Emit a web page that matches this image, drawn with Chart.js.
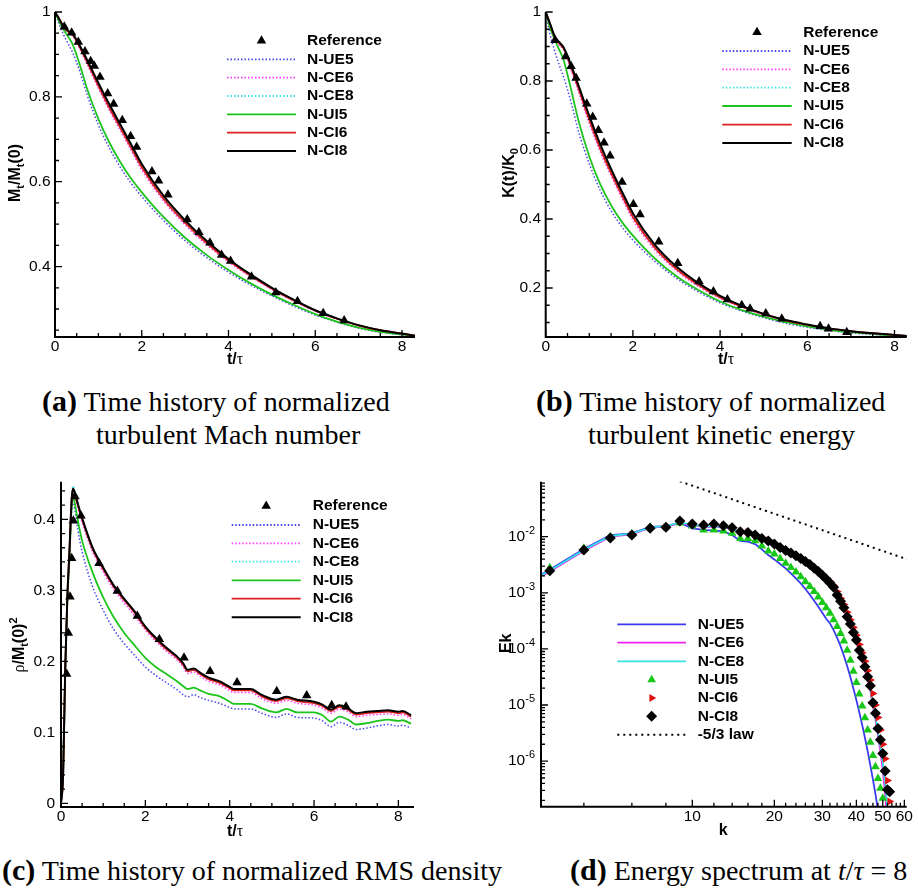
<!DOCTYPE html>
<html>
<head>
<meta charset="utf-8">
<script src="https://cdn.jsdelivr.net/npm/chart.js@4.4.1/dist/chart.umd.min.js"></script>
<style>
  html, body { margin: 0; padding: 0; background: #fff; }
  #fig { position: relative; width: 918px; height: 893px; overflow: hidden; }
  #fig canvas { position: absolute; }
  .cap { position: absolute; font-family: "Liberation Serif", "Times New Roman", serif; font-size: 28px; line-height: 28px; color: #000; white-space: nowrap; }
  .cap b { font-size: 30px; line-height: 0; }
</style>
</head>
<body>
<div id="fig">
  <canvas id="cA" width="459" height="375" style="left:0;top:0"></canvas>
  <canvas id="cB" width="459" height="375" style="left:459px;top:0"></canvas>
  <canvas id="cC" width="459" height="380" style="left:0;top:465px"></canvas>
  <canvas id="cD" width="459" height="380" style="left:459px;top:465px"></canvas>

  <div class="cap" style="left:42px;top:388px"><b>(a)</b> Time history of normalized</div>
  <div class="cap" style="left:96px;top:421px">turbulent Mach number</div>
  <div class="cap" style="left:536px;top:388px"><b>(b)</b> Time history of normalized</div>
  <div class="cap" style="left:588px;top:421px">turbulent kinetic energy</div>
  <div class="cap" style="left:2px;top:857px"><b>(c)</b> Time history of normalized RMS density</div>
  <div class="cap" style="left:570px;top:857px"><b>(d)</b> Energy spectrum at <i>t</i>/<i>τ</i> = 8</div>
</div>
<script>
// ---------- (a) normalized turbulent Mach number, (b) kinetic energy ----------
const tHist = [0, 0.1, 0.2, 0.3, 0.4, 0.5, 0.6, 0.75, 1, 1.25, 1.5, 1.75, 2, 2.5, 3, 3.5, 4, 4.5, 5, 5.5, 6, 6.5, 7, 7.5, 8, 8.3];

const mtUE5 = [1.0, 0.970, 0.946, 0.926, 0.906, 0.881, 0.851, 0.802, 0.734, 0.680, 0.635, 0.597, 0.565, 0.509, 0.461, 0.421, 0.387, 0.357, 0.331, 0.307, 0.286, 0.269, 0.255, 0.245, 0.239, 0.235];
const mtCE6 = [1.0, 0.982, 0.963, 0.952, 0.945, 0.928, 0.907, 0.875, 0.820, 0.769, 0.722, 0.675, 0.628, 0.555, 0.498, 0.451, 0.411, 0.377, 0.346, 0.319, 0.295, 0.276, 0.261, 0.249, 0.241, 0.237];
const mtCE8 = [1.0, 0.983, 0.965, 0.955, 0.948, 0.932, 0.913, 0.883, 0.830, 0.780, 0.733, 0.686, 0.639, 0.564, 0.507, 0.458, 0.417, 0.381, 0.349, 0.321, 0.297, 0.278, 0.262, 0.250, 0.242, 0.237];
const mtUI5 = [1.0, 0.977, 0.958, 0.942, 0.925, 0.898, 0.866, 0.816, 0.748, 0.693, 0.647, 0.608, 0.575, 0.517, 0.468, 0.427, 0.392, 0.361, 0.334, 0.310, 0.288, 0.270, 0.256, 0.246, 0.240, 0.236];
const mtCI6 = [1.0, 0.983, 0.964, 0.954, 0.947, 0.931, 0.911, 0.880, 0.826, 0.775, 0.728, 0.681, 0.634, 0.560, 0.503, 0.455, 0.414, 0.379, 0.348, 0.320, 0.296, 0.277, 0.261, 0.250, 0.242, 0.237];
const mtCI8 = [1.0, 0.983, 0.965, 0.956, 0.949, 0.934, 0.915, 0.885, 0.833, 0.783, 0.736, 0.689, 0.642, 0.567, 0.509, 0.460, 0.418, 0.382, 0.350, 0.322, 0.297, 0.278, 0.262, 0.250, 0.242, 0.237];
const refTimeA = [0.215, 0.384, 0.538, 0.691, 0.822, 0.906, 1.037, 1.214, 1.352, 1.551, 1.743, 1.882, 2.235, 2.389, 2.604, 3.049, 3.318, 3.571, 3.840, 4.048, 4.531, 5.092, 5.591, 6.183, 6.667];
const refMt = [0.965, 0.951, 0.929, 0.907, 0.884, 0.873, 0.847, 0.808, 0.783, 0.745, 0.707, 0.682, 0.624, 0.602, 0.569, 0.511, 0.481, 0.456, 0.427, 0.413, 0.376, 0.339, 0.318, 0.290, 0.273];

const keUE5 = [1.0, 0.935, 0.890, 0.850, 0.815, 0.775, 0.730, 0.655, 0.560, 0.483, 0.424, 0.377, 0.339, 0.278, 0.228, 0.189, 0.157, 0.133, 0.114, 0.098, 0.086, 0.077, 0.070, 0.065, 0.061, 0.059];
const keCE6 = [1.0, 0.964, 0.927, 0.906, 0.893, 0.863, 0.826, 0.770, 0.677, 0.595, 0.525, 0.460, 0.398, 0.311, 0.250, 0.205, 0.170, 0.144, 0.122, 0.105, 0.092, 0.082, 0.074, 0.068, 0.063, 0.061];
const keCE8 = [1.0, 0.966, 0.930, 0.912, 0.898, 0.870, 0.837, 0.784, 0.694, 0.612, 0.541, 0.475, 0.413, 0.323, 0.260, 0.212, 0.176, 0.147, 0.125, 0.107, 0.094, 0.083, 0.075, 0.069, 0.064, 0.061];
const keUI5 = [1.0, 0.955, 0.922, 0.893, 0.865, 0.819, 0.766, 0.686, 0.581, 0.501, 0.440, 0.391, 0.352, 0.286, 0.234, 0.194, 0.161, 0.136, 0.117, 0.101, 0.089, 0.079, 0.072, 0.067, 0.062, 0.060];
const keCI6 = [1.0, 0.966, 0.929, 0.910, 0.896, 0.868, 0.833, 0.779, 0.687, 0.604, 0.533, 0.468, 0.406, 0.317, 0.255, 0.209, 0.173, 0.146, 0.124, 0.106, 0.093, 0.083, 0.075, 0.069, 0.064, 0.061];
const keCI8 = [1.0, 0.966, 0.931, 0.914, 0.900, 0.873, 0.840, 0.788, 0.699, 0.617, 0.545, 0.479, 0.417, 0.326, 0.262, 0.214, 0.177, 0.148, 0.125, 0.107, 0.094, 0.083, 0.075, 0.069, 0.064, 0.061];
const refTimeB = [0.214, 0.459, 0.581, 0.696, 0.941, 1.078, 1.208, 1.338, 1.476, 1.751, 2.011, 2.164, 2.593, 3.029, 3.518, 3.847, 4.168, 4.497, 4.688, 5.048, 5.415, 6.294, 6.486, 6.906];
const refKe = [0.918, 0.871, 0.843, 0.809, 0.734, 0.696, 0.657, 0.621, 0.583, 0.507, 0.443, 0.413, 0.334, 0.272, 0.219, 0.190, 0.167, 0.150, 0.140, 0.126, 0.111, 0.089, 0.082, 0.072];

// ---------- (c) normalized RMS density ----------
const tRho = [0, 0.05, 0.1, 0.15, 0.2, 0.25, 0.28, 0.3, 0.35, 0.4, 0.5, 0.75, 1, 1.25, 1.5, 1.75, 2, 2.25, 2.5, 2.75, 2.9, 3, 3.15, 3.3, 3.5, 3.75, 4, 4.1, 4.5, 4.75, 5, 5.1, 5.35, 5.6, 6, 6.2, 6.4, 6.6, 6.8, 7, 7.25, 7.5, 7.75, 8, 8.1, 8.3];
const rhoUE5 = [0, 0.035, 0.18, 0.28, 0.34, 0.41, 0.425, 0.422, 0.405, 0.385, 0.355, 0.305, 0.272, 0.245, 0.225, 0.208, 0.192, 0.18, 0.17, 0.16, 0.153, 0.15, 0.153, 0.149, 0.145, 0.141, 0.135, 0.133, 0.133, 0.127, 0.122, 0.121, 0.126, 0.121, 0.12, 0.116, 0.108, 0.114, 0.11, 0.104, 0.106, 0.109, 0.111, 0.109, 0.11, 0.106];
const rhoCE6 = [0, 0.04, 0.188, 0.288, 0.352, 0.422, 0.440, 0.438, 0.428, 0.416, 0.396, 0.354, 0.326, 0.301, 0.282, 0.264, 0.244, 0.228, 0.214, 0.202, 0.192, 0.183, 0.185, 0.179, 0.172, 0.167, 0.159, 0.156, 0.156, 0.148, 0.142, 0.141, 0.145, 0.141, 0.138, 0.134, 0.127, 0.133, 0.129, 0.122, 0.124, 0.125, 0.126, 0.124, 0.125, 0.119];
const rhoCE8 = [0, 0.04, 0.19, 0.29, 0.355, 0.428, 0.447, 0.445, 0.434, 0.422, 0.401, 0.359, 0.331, 0.306, 0.287, 0.269, 0.248, 0.232, 0.218, 0.206, 0.196, 0.187, 0.189, 0.183, 0.176, 0.171, 0.163, 0.160, 0.160, 0.152, 0.146, 0.145, 0.149, 0.145, 0.142, 0.138, 0.131, 0.137, 0.133, 0.126, 0.128, 0.129, 0.130, 0.128, 0.129, 0.123];
const rhoUI5 = [0, 0.04, 0.185, 0.285, 0.345, 0.415, 0.432, 0.43, 0.415, 0.398, 0.37, 0.325, 0.29, 0.262, 0.24, 0.222, 0.205, 0.192, 0.182, 0.172, 0.165, 0.161, 0.163, 0.159, 0.154, 0.151, 0.143, 0.14, 0.14, 0.134, 0.129, 0.128, 0.133, 0.128, 0.128, 0.124, 0.115, 0.122, 0.118, 0.111, 0.113, 0.116, 0.118, 0.116, 0.117, 0.112];
const rhoCI6 = [0, 0.04, 0.19, 0.29, 0.355, 0.425, 0.442, 0.441, 0.431, 0.420, 0.400, 0.358, 0.330, 0.305, 0.286, 0.268, 0.247, 0.231, 0.217, 0.205, 0.195, 0.186, 0.188, 0.182, 0.175, 0.170, 0.162, 0.159, 0.159, 0.151, 0.145, 0.144, 0.148, 0.144, 0.141, 0.137, 0.130, 0.136, 0.132, 0.125, 0.127, 0.128, 0.129, 0.127, 0.128, 0.122];
const rhoCI8 = [0, 0.04, 0.19, 0.29, 0.355, 0.425, 0.443, 0.442, 0.433, 0.422, 0.402, 0.360, 0.332, 0.307, 0.288, 0.270, 0.249, 0.233, 0.219, 0.207, 0.197, 0.188, 0.190, 0.184, 0.177, 0.172, 0.164, 0.161, 0.161, 0.153, 0.147, 0.146, 0.150, 0.146, 0.143, 0.139, 0.132, 0.138, 0.134, 0.127, 0.129, 0.130, 0.131, 0.129, 0.130, 0.124];
const refTimeC = [0.134, 0.174, 0.213, 0.253, 0.292, 0.332, 0.474, 0.901, 1.336, 1.810, 2.332, 2.917, 3.534, 4.174, 5.115, 5.826, 6.419, 6.759];
const refRho = [0.182, 0.240, 0.291, 0.345, 0.398, 0.432, 0.405, 0.338, 0.299, 0.264, 0.231, 0.205, 0.186, 0.170, 0.158, 0.152, 0.138, 0.136];

// ---------- (d) energy spectrum at t/tau = 8 ----------
const kWave = [2, 3, 4, 5, 6, 7, 8, 9, 10, 11, 12, 13, 14, 15, 16, 17, 18, 19, 20, 21, 22, 23, 24, 25, 26, 27, 28, 29, 30, 31, 32, 33, 34, 35, 36, 37, 38, 39, 40, 41, 42, 43, 44, 45, 46, 47, 48, 49, 50, 51, 52, 53];
const ekUE5 = [8.0e-4, 2.6e-3, 6.0e-3, 1.07e-2, 1.15e-2, 1.5e-2, 1.55e-2, 1.78e-2, 1.41e-2, 1.32e-2, 1.28e-2, 1.26e-2, 1.07e-2, 8.4e-3, 8.15e-3, 7.4e-3, 5.94e-3, 4.71e-3, 3.94e-3, 3.26e-3, 2.73e-3, 2.22e-3, 1.81e-3, 1.47e-3, 1.17e-3, 9.25e-4, 7.23e-4, 5.65e-4, 4.42e-4, 3.45e-4, 2.85e-4, 2.17e-4, 1.58e-4, 1.12e-4, 7.56e-5, 4.95e-5, 3.19e-5, 1.98e-5, 1.23e-5, 7.39e-6, 4.45e-6, 2.61e-6, 1.51e-6, 8.51e-7, 4.72e-7, 2.59e-7, 1.34e-7, null, null, null, null, null];
const ekCE6 = [7.8e-4, 2.4e-3, 5.6e-3, 1.0e-2, 1.1e-2, 1.45e-2, 1.52e-2, 1.75e-2, 1.6e-2, 1.5e-2, 1.52e-2, 1.45e-2, 1.38e-2, 1.17e-2, 1.14e-2, 1.03e-2, 9.0e-3, 8.1e-3, 7.2e-3, 6.3e-3, 5.55e-3, 4.95e-3, 4.45e-3, 3.95e-3, 3.45e-3, 3.05e-3, 2.65e-3, 2.3e-3, 1.95e-3, 1.66e-3, 1.4e-3, 1.15e-3, 8.5e-4, 6.6e-4, 5.0e-4, 3.5e-4, 2.55e-4, 1.8e-4, 1.3e-4, 8.7e-5, 6.2e-5, 4.2e-5, 2.8e-5, 1.85e-5, 9.5e-6, 5.5e-6, 2.9e-6, 1.5e-6, 7.0e-7, 2.6e-7, 8.0e-8, null];
const ekCE8 = [8.2e-4, 2.5e-3, 5.8e-3, 1.03e-2, 1.13e-2, 1.47e-2, 1.54e-2, 1.8e-2, 1.63e-2, 1.53e-2, 1.55e-2, 1.48e-2, 1.4e-2, 1.2e-2, 1.16e-2, 1.05e-2, 9.2e-3, 8.3e-3, 7.35e-3, 6.4e-3, 5.65e-3, 5.05e-3, 4.55e-3, 4.05e-3, 3.55e-3, 3.15e-3, 2.72e-3, 2.37e-3, 2.02e-3, 1.73e-3, 1.47e-3, 1.22e-3, 8.9e-4, 6.9e-4, 5.25e-4, 3.65e-4, 2.7e-4, 1.9e-4, 1.4e-4, 9.2e-5, 6.7e-5, 4.6e-5, 3.05e-5, 2.05e-5, 1.05e-5, 6.3e-6, 3.4e-6, 1.9e-6, 9.5e-7, 4.2e-7, 1.4e-7, null];
const ekUI5 = [null, 2.8e-3, 6.2e-3, 1.0e-2, 1.12e-2, 1.47e-2, 1.5e-2, 1.75e-2, 1.55e-2, 1.32e-2, 1.32e-2, 1.26e-2, 1.15e-2, 9.3e-3, 9.3e-3, 8.5e-3, 6.8e-3, 5.55e-3, 4.9e-3, 4.1e-3, 3.35e-3, 2.84e-3, 2.34e-3, 1.94e-3, 1.58e-3, 1.29e-3, 1.05e-3, 8.4e-4, 6.75e-4, 5.4e-4, 4.3e-4, 3.3e-4, 2.52e-4, 1.89e-4, 1.38e-4, 9.5e-5, 6.3e-5, 4.0e-5, 2.53e-5, 1.57e-5, 9.6e-6, 5.9e-6, 3.6e-6, 2.16e-6, 1.26e-6, 7.9e-7, 4.9e-7, 3.27e-7, 2.17e-7, null, null, null];
const ekCI6 = [null, 2.5e-3, 5.8e-3, 9.5e-3, 1.08e-2, 1.42e-2, 1.48e-2, 1.88e-2, 1.7e-2, 1.62e-2, 1.66e-2, 1.58e-2, 1.46e-2, 1.25e-2, 1.2e-2, 1.08e-2, 9.5e-3, 8.6e-3, 7.6e-3, 6.6e-3, 5.85e-3, 5.25e-3, 4.7e-3, 4.2e-3, 3.7e-3, 3.3e-3, 2.85e-3, 2.5e-3, 2.15e-3, 1.85e-3, 1.6e-3, 1.35e-3, 1.05e-3, 8.0e-4, 6.2e-4, 4.5e-4, 3.3e-4, 2.4e-4, 1.75e-4, 1.2e-4, 8.5e-5, 6.0e-5, 4.1e-5, 2.8e-5, 1.6e-5, 1.0e-5, 6.0e-6, 3.6e-6, 2.0e-6, 1.1e-6, 4.5e-7, 1.9e-7];
const ekCI8 = [null, 2.48e-3, 5.78e-3, 9.47e-3, 1.07e-2, 1.41e-2, 1.47e-2, 1.90e-2, 1.68e-2, 1.61e-2, 1.68e-2, 1.57e-2, 1.45e-2, 1.23e-2, 1.19e-2, 1.07e-2, 9.3e-3, 8.4e-3, 7.4e-3, 6.45e-3, 5.7e-3, 5.1e-3, 4.6e-3, 4.1e-3, 3.6e-3, 3.2e-3, 2.75e-3, 2.4e-3, 2.05e-3, 1.76e-3, 1.5e-3, 1.25e-3, 9.1e-4, 7.1e-4, 5.4e-4, 3.75e-4, 2.77e-4, 1.97e-4, 1.44e-4, 9.5e-5, 7.0e-5, 4.8e-5, 3.2e-5, 2.2e-5, 1.1e-5, 7.1e-6, 3.8e-6, 2.4e-6, 1.37e-6, 6.7e-7, 3.1e-7, 2.85e-7];
const kLaw = [9, 62];
const ekLaw = [0.097, 0.0039];

// tick labels
const xTickTime = [0, 2, 4, 6, 8];
const yTickMt = [0.4, 0.6, 0.8, 1];
const yTickKe = [0.2, 0.4, 0.6, 0.8, 1];
const yTickRho = [0, 0.1, 0.2, 0.3, 0.4];
const xTickK = [10, 20, 30, 40, 50, 60];
const yTickEk = [1e-6, 1e-5, 1e-4, 1e-3, 1e-2];
const yTickEkText = ['-6', '-5', '-4', '-3', '-2'];

// ---------- styles ----------
const SANS = '"Liberation Sans", Arial, sans-serif';
const SERIF = '"Liberation Serif", "Times New Roman", serif';
const F_TICK = '15.5px ' + SANS;
const F_TITLE = 'bold 16px ' + SANS;
const F_SUB = 'bold 11px ' + SANS;
const F_LEG = 'bold 15.5px ' + SANS;

const C_BLUE = '#4848ee', C_MAG = '#ff3cff', C_CYAN = '#3ce6e6', C_GREEN = '#1ec41e', C_RED = '#dd2020';
const DOT = [1.5, 2];

function pts(xs, ys) {
  const out = [];
  xs.forEach((x, i) => { if (ys[i] != null) out.push({ x: x, y: ys[i] }); });
  return out;
}

function curve(label, xs, ys, color, dash, width, order, smooth) {
  return {
    label, data: pts(xs, ys), showLine: true, borderColor: color, backgroundColor: color,
    borderWidth: width, borderDash: dash, pointRadius: 0, fill: false, order: order,
    cubicInterpolationMode: smooth ? 'monotone' : 'default', tension: 0
  };
}

function marks(label, xs, ys, color, style, radius, rotation, order) {
  return {
    label, data: pts(xs, ys), showLine: false, pointStyle: style, pointRadius: radius,
    pointRotation: rotation, backgroundColor: color, borderColor: color, borderWidth: 0, order: order
  };
}

function histSets(t, ue5, ce6, ce8, ui5, ci6, ci8, refT, refV) {
  return [
    marks('Reference', refT, refV, '#000', 'triangle', 5.5, 0, 0),
    curve('N-UE5', t, ue5, C_BLUE, DOT, 1.5, 6, true),
    curve('N-CE6', t, ce6, C_MAG, DOT, 1.5, 5, true),
    curve('N-CE8', t, ce8, C_CYAN, DOT, 1.5, 4, true),
    curve('N-UI5', t, ui5, C_GREEN, [], 1.8, 3, true),
    curve('N-CI6', t, ci6, C_RED, [], 1.8, 2, true),
    curve('N-CI8', t, ci8, '#000', [], 2, 1, true)
  ];
}

// ---------- decoration: axes, inward ticks, labels, titles, legend ----------
function drawRich(ctx, segs, x, y, align) {
  let w = 0;
  segs.forEach(s => { ctx.font = s.f; w += ctx.measureText(s.t).width; });
  let cx = align === 'center' ? x - w / 2 : align === 'right' ? x - w : x;
  segs.forEach(s => {
    ctx.font = s.f;
    ctx.fillText(s.t, cx, y + (s.dy || 0));
    cx += ctx.measureText(s.t).width;
  });
}

function steps(from, to, step) {
  const out = [];
  for (let v = from; v <= to + 1e-9; v += step) out.push(Math.round(v * 1000) / 1000);
  return out;
}

function logMinor(minExp, maxExp) {
  const out = [];
  for (let e = minExp; e <= maxExp; e++) for (let m = 2; m <= 9; m++) out.push(m * Math.pow(10, e));
  return out;
}

function marker(ctx, style, r, rot, x, y, color) {
  ctx.fillStyle = color; ctx.strokeStyle = color;
  Chart.helpers.drawPoint(ctx, { pointStyle: style, radius: r, rotation: rot, borderWidth: 0 }, x, y);
}

function decor(cfg) {
  return {
    id: 'decor',
    afterDraw(chart) {
      const ctx = chart.ctx, a = chart.chartArea, xs = chart.scales.x, ys = chart.scales.y;
      ctx.save();
      ctx.strokeStyle = '#000'; ctx.fillStyle = '#000'; ctx.setLineDash([]);

      ctx.lineWidth = 1.3;
      ctx.beginPath();
      const tick = (v, len, horiz) => {
        if (horiz) { const p = xs.getPixelForValue(v); if (p < a.left - 0.5 || p > a.right + 0.5) return; ctx.moveTo(p, a.bottom); ctx.lineTo(p, a.bottom - len); }
        else { const p = ys.getPixelForValue(v); if (p < a.top - 0.5 || p > a.bottom + 0.5) return; ctx.moveTo(a.left, p); ctx.lineTo(a.left + len, p); }
      };
      cfg.xMinor.forEach(v => tick(v, 4, true));
      cfg.xMajor.forEach(v => tick(v, 7, true));
      cfg.yMinor.forEach(v => tick(v, 4, false));
      cfg.yMajor.forEach(v => tick(v, 7, false));
      ctx.stroke();

      ctx.lineWidth = 2;
      ctx.beginPath();
      ctx.moveTo(a.left, a.top); ctx.lineTo(a.left, a.bottom); ctx.lineTo(a.right, a.bottom);
      ctx.stroke();

      ctx.textBaseline = 'middle';
      cfg.xLabels.forEach((segs, i) => drawRich(ctx, segs, xs.getPixelForValue(cfg.xMajor[i]), a.bottom + 10, 'center'));
      cfg.yLabels.forEach((segs, i) => drawRich(ctx, segs, a.left - cfg.yGap, ys.getPixelForValue(cfg.yMajor[i]), 'right'));

      drawRich(ctx, cfg.xTitle, cfg.xTitleAt[0], cfg.xTitleAt[1], 'center');
      ctx.save();
      ctx.translate(cfg.yTitleAt[0], cfg.yTitleAt[1]);
      ctx.rotate(-Math.PI / 2);
      drawRich(ctx, cfg.yTitle, 0, 0, 'center');
      ctx.restore();

      const L = cfg.legend;
      chart.data.datasets.forEach((ds, i) => {
        const y = L.rows[i], xm = (L.x0 + L.x1) / 2;
        if (ds.showLine) {
          ctx.save();
          ctx.strokeStyle = ds.borderColor; ctx.lineWidth = Math.max(ds.borderWidth, 1.8);
          ctx.setLineDash(ds.borderDash || []);
          ctx.beginPath(); ctx.moveTo(L.x0, y); ctx.lineTo(L.x1, y); ctx.stroke();
          ctx.restore();
        } else {
          marker(ctx, ds.pointStyle, ds.pointRadius, ds.pointRotation || 0, xm, y, ds.backgroundColor);
        }
        ctx.fillStyle = '#000'; ctx.font = F_LEG; ctx.textAlign = 'left';
        ctx.fillText(ds.label, L.tx, y);
      });
      ctx.restore();
    }
  };
}

function numLabels(vals) { return vals.map(v => [{ t: String(v), f: F_TICK }]); }

function makePanel(id, datasets, xScale, yScale, pad, cfg) {
  new Chart(document.getElementById(id), {
    type: 'scatter',
    data: { datasets },
    options: {
      responsive: false, animation: false, devicePixelRatio: 1,
      layout: { padding: pad },
      plugins: { legend: { display: false }, tooltip: { enabled: false } },
      scales: { x: Object.assign({ display: false }, xScale), y: Object.assign({ display: false }, yScale) }
    },
    plugins: [decor(cfg)]
  });
}

const tauTitle = [{ t: 't/', f: F_TITLE }, { t: 'τ', f: '16px ' + SERIF }];

// (a)
makePanel('cA', histSets(tHist, mtUE5, mtCE6, mtCE8, mtUI5, mtCI6, mtCI8, refTimeA, refMt),
  { type: 'linear', min: 0, max: 8.3 }, { type: 'linear', min: 0.234, max: 1 },
  { left: 55, right: 44, top: 12, bottom: 38 },
  {
    xMajor: xTickTime, xMinor: steps(0, 8.3, 0.5), yMajor: yTickMt, yMinor: steps(0.25, 1, 0.05),
    xLabels: numLabels(xTickTime), yLabels: numLabels(yTickMt), yGap: 4.5,
    xTitle: tauTitle, xTitleAt: [235, 360],
    yTitle: [{ t: 'M', f: F_TITLE }, { t: 't', f: F_SUB, dy: 5 }, { t: '/M', f: F_TITLE }, { t: 't', f: F_SUB, dy: 5 }, { t: '(0)', f: F_TITLE }],
    yTitleAt: [16, 173],
    legend: { x0: 227, x1: 296, tx: 307, rows: [40.7, 59.3, 77.7, 96, 114.3, 132.7, 151] }
  });

// (b)
makePanel('cB', histSets(tHist, keUE5, keCE6, keCE8, keUI5, keCI6, keCI8, refTimeB, refKe),
  { type: 'linear', min: 0, max: 8.28 }, { type: 'linear', min: 0.058, max: 1 },
  { left: 86.7, right: 11.3, top: 12, bottom: 38 },
  {
    xMajor: xTickTime, xMinor: steps(0, 8.3, 0.5), yMajor: yTickKe, yMinor: steps(0.1, 1, 0.05),
    xLabels: numLabels(xTickTime), yLabels: numLabels(yTickKe), yGap: 4.7,
    xTitle: tauTitle, xTitleAt: [267, 360],
    yTitle: [{ t: 'K(t)/K', f: F_TITLE }, { t: '0', f: F_SUB, dy: 5 }],
    yTitleAt: [50.5, 173],
    legend: { x0: 263.3, x1: 332.7, tx: 344.3, rows: [32.3, 51, 69.3, 87.7, 106, 124.7, 143] }
  });

// (c)
makePanel('cC', histSets(tRho, rhoUE5, rhoCE6, rhoCE8, rhoUI5, rhoCI6, rhoCI8, refTimeC, refRho),
  { type: 'linear', min: 0, max: 8.37 }, { type: 'linear', min: -0.0052, max: 0.453 },
  { left: 61, right: 45, top: 16.7, bottom: 38 },
  {
    xMajor: xTickTime, xMinor: steps(0, 8.3, 0.5), yMajor: yTickRho, yMinor: steps(0, 0.45, 0.02),
    xLabels: numLabels(xTickTime), yLabels: numLabels(yTickRho), yGap: 6,
    xTitle: tauTitle, xTitleAt: [235, 366.7],
    yTitle: [{ t: 'ρ', f: '16px ' + SERIF }, { t: '/M', f: F_TITLE }, { t: 't', f: F_SUB, dy: 5 }, { t: '(0)', f: F_TITLE }, { t: '2', f: F_SUB, dy: -6 }],
    yTitleAt: [20, 180],
    legend: { x0: 231.7, x1: 300.7, tx: 312.7, rows: [41, 60, 78.3, 96.7, 115.3, 133.7, 152.3] }
  });

// (d)
makePanel('cD', [
    curve('N-UE5', kWave, ekUE5, '#3a3af2', [], 1.8, 5, false),
    curve('N-CE6', kWave, ekCE6, '#f024f0', [], 1.8, 4, false),
    curve('N-CE8', kWave, ekCE8, '#34e2e2', [], 1.8, 3, false),
    marks('N-UI5', kWave, ekUI5, '#18c818', 'triangle', 5, 0, 2),
    marks('N-CI6', kWave, ekCI6, '#e01010', 'triangle', 4.6, 90, 1),
    marks('N-CI8', kWave, ekCI8, '#000', 'rectRot', 5.5, 0, 0),
    curve('-5/3 law', kLaw, ekLaw, '#000', [2, 4], 2, 6, false)
  ],
  { type: 'logarithmic', min: 2.784, max: 61.2 }, { type: 'logarithmic', min: 1.54e-7, max: 0.0956 },
  { left: 82, right: 11.3, top: 16.7, bottom: 38.3 },
  {
    xMajor: xTickK, xMinor: steps(4, 58, 2).filter(v => v % 10 !== 0), yMajor: yTickEk, yMinor: logMinor(-7, -2),
    xLabels: numLabels(xTickK),
    yLabels: yTickEkText.map(e => [{ t: '10', f: F_TICK }, { t: e, f: '11px ' + SANS, dy: -6 }]), yGap: 6,
    xTitle: [{ t: 'k', f: F_TITLE }], xTitleAt: [264.3, 366],
    yTitle: [{ t: 'Ek', f: F_TITLE }], yTitleAt: [47.7, 178.3],
    legend: { x0: 158.3, x1: 227, tx: 238.7, rows: [159.3, 177.7, 196.3, 214.7, 233, 251.3, 269.7] }
  });
</script>
</body>
</html>
